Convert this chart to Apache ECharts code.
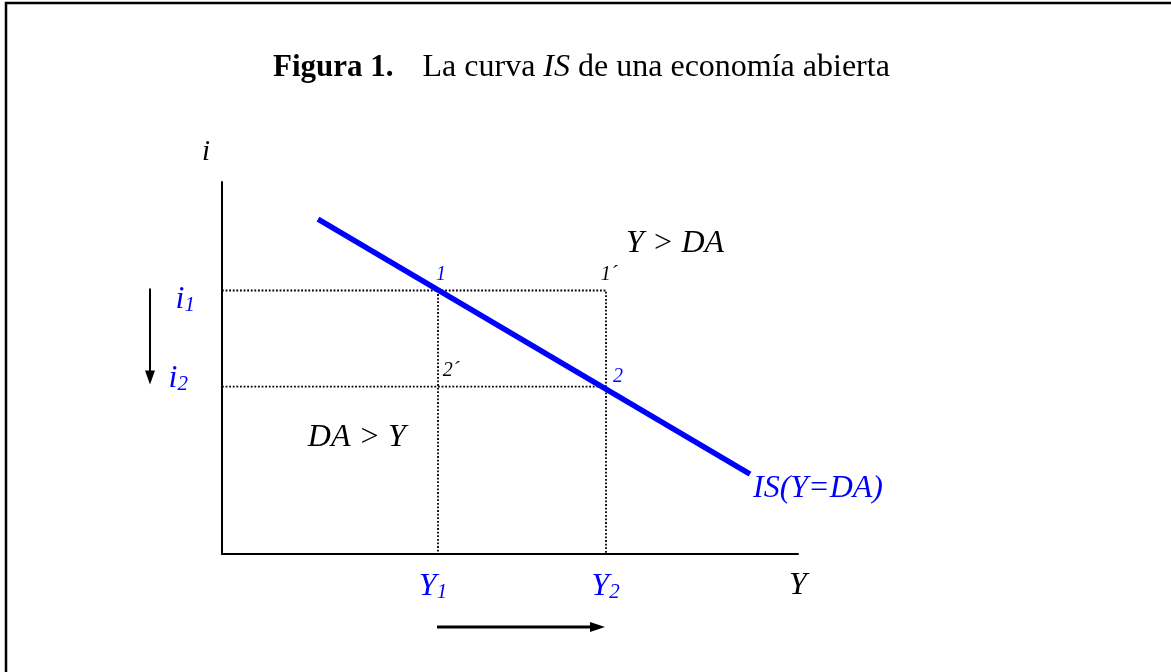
<!DOCTYPE html>
<html>
<head>
<meta charset="utf-8">
<script src="https://cdn.jsdelivr.net/npm/echarts@6/dist/echarts.min.js"></script>
<style>
  html, body { margin: 0; padding: 0; background: #fff; }
  #chart { width: 1171px; height: 672px; }
</style>
</head>
<body>
<div id="chart"></div>
<script>
// ---- figure content ----
const titleBold = 'Figura 1.';
const titleText = ['La curva ', 'IS', ' de una economía abierta'];

// IS curve (Y = DA), two end points in (Y, i) units
const isCurve = [[2, 10.8], [11, 2.58]];
const isLabel = 'IS(Y=DA)';

// income levels Y1, Y2 and interest rates i1, i2
const incomeTicks = [4.5, 8];
const incomeNames = ['Y', 'Y'];
const incomeSubs = ['1', '2'];
const rateTicks = [8.5, 5.4];
const rateNames = ['i', 'i'];
const rateSubs = ['1', '2'];

// equilibrium / off-curve points
const pointNames = ['1', '2', '1´', '2´'];
const pointOnCurve = [true, true, false, false];

// region labels: text and (Y, i) anchor
const regionText = ['Y > DA', 'DA > Y'];
const regionAt = [[9.44, 10.0], [2.81, 3.77]];

const axisNames = ['Y', 'i'];

// ---- styling ----
const SERIF = "'Liberation Serif', 'Times New Roman', serif";
const BLUE = '#0000ff';
const BLACK = '#000000';

const Y1 = incomeTicks[0], Y2 = incomeTicks[1];
const i1 = rateTicks[0], i2 = rateTicks[1];
const pointCoords = [[Y1, i1], [Y2, i2], [Y2, i1], [Y1, i2]];
const pointOffsets = [[3, -16], [12, -10], [3, -16], [13, -16]];

const dotted = { color: BLACK, width: 1.8, type: [1.8, 1.8] };

function dottedSeries(pts) {
  return {
    type: 'line', data: pts, symbol: 'none', silent: true, z: 1,
    lineStyle: dotted
  };
}

const mainStyle = { fontFamily: SERIF, fontStyle: 'italic', fontSize: 32, color: BLUE };
const subStyle = {
  fontFamily: SERIF, fontStyle: 'italic', fontSize: 21, color: BLUE,
  verticalAlign: 'bottom', lineHeight: 13
};

const chart = echarts.init(document.getElementById('chart'));

const option = {
  animation: false,
  backgroundColor: '#ffffff',
  grid: { left: 222, top: 182, width: 576, height: 372 },
  xAxis: {
    type: 'value', min: 0, max: 12,
    axisLine: { show: true, onZero: false, lineStyle: { color: BLACK, width: 2 } },
    axisTick: { show: false },
    splitLine: { show: false },
    axisLabel: {
      customValues: incomeTicks,
      margin: 17,
      formatter: function (v) {
        const k = incomeTicks.indexOf(v);
        return '{m|' + incomeNames[k] + '}{s' + k + '|' + incomeSubs[k] + '}';
      },
      rich: {
        m: mainStyle,
        s0: Object.assign({}, subStyle, { padding: [0, 10, 0, 0] }),
        s1: Object.assign({}, subStyle, { padding: [0, 1, 0, 0] })
      }
    },
    name: axisNames[0], nameLocation: 'end', nameGap: 0,
    nameTextStyle: {
      fontFamily: SERIF, fontStyle: 'italic', fontSize: 32, color: BLACK,
      align: 'center', verticalAlign: 'top', lineHeight: 64
    }
  },
  yAxis: {
    type: 'value', min: 0, max: 12,
    axisLine: { show: true, onZero: false, lineStyle: { color: BLACK, width: 2 } },
    axisTick: { show: false },
    splitLine: { show: false },
    axisLabel: {
      customValues: rateTicks,
      margin: 27,
      formatter: function (v) {
        const k = rateTicks.indexOf(v);
        return '{m' + k + '|' + rateNames[k] + '}{s' + k + '|' + rateSubs[k] + '}';
      },
      rich: {
        m0: Object.assign({}, mainStyle, { padding: [18, 0, 0, 0] }),
        s0: subStyle,
        m1: Object.assign({}, mainStyle, { padding: [0, 0, 16, 0] }),
        s1: Object.assign({}, subStyle, { padding: [0, 7, 16, 0] })
      }
    },
    name: axisNames[1], nameLocation: 'end', nameGap: 30,
    nameTextStyle: {
      fontFamily: SERIF, fontStyle: 'italic', fontSize: 29, color: BLACK,
      align: 'right', verticalAlign: 'middle', padding: [0, 12, 0, 0]
    }
  },
  series: [
    dottedSeries([[0, i1], [Y2, i1], [Y2, 0]]),
    dottedSeries([[0, i2], [Y2, i2]]),
    dottedSeries([[Y1, i1], [Y1, 0]]),
    {
      type: 'line', name: 'IS', data: isCurve, symbol: 'none', z: 3,
      lineStyle: { color: BLUE, width: 5.5, cap: 'butt' },
      endLabel: {
        show: true, formatter: isLabel, offset: [0, 15], distance: 3,
        fontFamily: SERIF, fontStyle: 'italic', fontSize: 32, color: BLUE
      }
    },
    {
      type: 'scatter', symbolSize: 1, z: 4, silent: true,
      itemStyle: { color: 'transparent', opacity: 1 },
      data: pointNames.map(function (n, k) {
        return {
          name: n, value: pointCoords[k],
          label: {
            show: true, formatter: n, position: 'inside',
            offset: pointOffsets[k],
            fontFamily: SERIF, fontStyle: 'italic', fontSize: 20,
            color: pointOnCurve[k] ? BLUE : BLACK, opacity: 1
          }
        };
      })
    },
    {
      type: 'scatter', symbolSize: 1, z: 4, silent: true,
      itemStyle: { color: 'transparent', opacity: 1 },
      data: regionText.map(function (t, k) {
        return {
          name: t, value: regionAt[k],
          label: {
            show: true, formatter: t, position: 'inside',
            fontFamily: SERIF, fontStyle: 'italic', fontSize: 32, color: BLACK, opacity: 1
          }
        };
      })
    }
  ]
};

chart.setOption(option);

// annotations: frame, title and the two movement arrows (placed from the scales)
const pY1 = chart.convertToPixel({ gridIndex: 0 }, [Y1, i1]);
const pY2 = chart.convertToPixel({ gridIndex: 0 }, [Y2, i2]);
const origin = chart.convertToPixel({ gridIndex: 0 }, [0, 0]);

const downX = origin[0] - 72;
const downTop = pY1[1] - 2, downTip = pY2[1] - 2;
const rightY = origin[1] + 73;
const rightStart = pY1[0] - 1, rightTip = pY2[0] - 1;

chart.setOption({
  graphic: [
    {
      type: 'rect', silent: true,
      shape: { x: 6, y: 3, width: 1300, height: 800 },
      style: { fill: 'none', stroke: BLACK, lineWidth: 2.5 }
    },
    {
      type: 'text', x: 273, y: 68, silent: true,
      style: {
        text: '{b|' + titleBold + '}{n|' + titleText[0] + '}{it|' + titleText[1] + '}{n|' + titleText[2] + '}',
        verticalAlign: 'middle',
        rich: {
          b: { fontFamily: SERIF, fontWeight: 'bold', fontSize: 31, fill: BLACK, padding: [0, 29, 0, 0] },
          n: { fontFamily: SERIF, fontSize: 32, fill: BLACK },
          it: { fontFamily: SERIF, fontStyle: 'italic', fontSize: 32, fill: BLACK }
        }
      }
    },
    {
      type: 'line', silent: true,
      shape: { x1: downX, y1: downTop, x2: downX, y2: downTip - 12 },
      style: { stroke: BLACK, lineWidth: 2 }
    },
    {
      type: 'polygon', silent: true,
      shape: { points: [[downX - 5, downTip - 14], [downX + 5, downTip - 14], [downX, downTip]] },
      style: { fill: BLACK }
    },
    {
      type: 'line', silent: true,
      shape: { x1: rightStart, y1: rightY, x2: rightTip - 14, y2: rightY },
      style: { stroke: BLACK, lineWidth: 3 }
    },
    {
      type: 'polygon', silent: true,
      shape: { points: [[rightTip - 15, rightY - 5], [rightTip - 15, rightY + 5], [rightTip, rightY]] },
      style: { fill: BLACK }
    }
  ]
});
</script>
</body>
</html>
